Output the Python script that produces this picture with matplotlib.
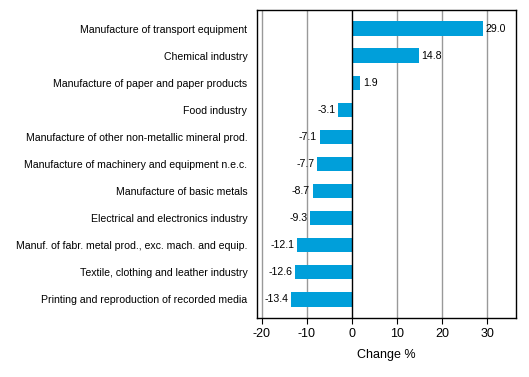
import matplotlib
matplotlib.use("Agg")
import numpy as np
from matplotlib import pyplot as plt

plt.rcParams['font.family'] = ['Liberation Sans', 'DejaVu Sans']

categories = [
    "Manufacture of transport equipment",
    "Chemical industry",
    "Manufacture of paper and paper products",
    "Food industry",
    "Manufacture of other non-metallic mineral prod.",
    "Manufacture of machinery and equipment n.e.c.",
    "Manufacture of basic metals",
    "Electrical and electronics industry",
    "Manuf. of fabr. metal prod., exc. mach. and equip.",
    "Textile, clothing and leather industry",
    "Printing and reproduction of recorded media",
]
values = [29.0, 14.8, 1.9, -3.1, -7.1, -7.7, -8.7, -9.3, -12.1, -12.6, -13.4]
xticks = [-20, -10, 0, 10, 20, 30]

fig = plt.figure(figsize=(5.29, 3.77), dpi=100)
ax = fig.add_axes([0.486, 0.1565, 0.489, 0.817])

y = np.arange(len(categories))
ax.barh(y, values, height=0.55, color='#009fda', zorder=3)

for yi, v in zip(y, values):
    if v >= 0:
        ax.text(v + 0.6, yi, f"{v:.1f}", va='center', ha='left', fontsize=7.6)
    else:
        ax.text(v - 0.6, yi, f"{v:.1f}", va='center', ha='right', fontsize=7.6)

ax.set_yticks(y)
ax.set_yticklabels(categories, fontsize=7.6)
ax.tick_params(axis='y', length=0, pad=7)
ax.set_ylim(len(categories) - 0.3, -0.7)

ax.set_xlim(-21, 36.3)
ax.set_xticks(xticks)
ax.set_xticklabels([str(t) for t in xticks], fontsize=9)
ax.tick_params(axis='x', length=4, color='black')
ax.set_xlabel("Change %", fontsize=9, labelpad=6)

for t in xticks:
    if t != 0:
        ax.axvline(t, color='#999999', lw=1, zorder=1)
ax.axvline(0, color='black', lw=1, zorder=4)

for s in ax.spines.values():
    s.set_color('black')
    s.set_linewidth(1)

fig.savefig("out.png", dpi=100)
